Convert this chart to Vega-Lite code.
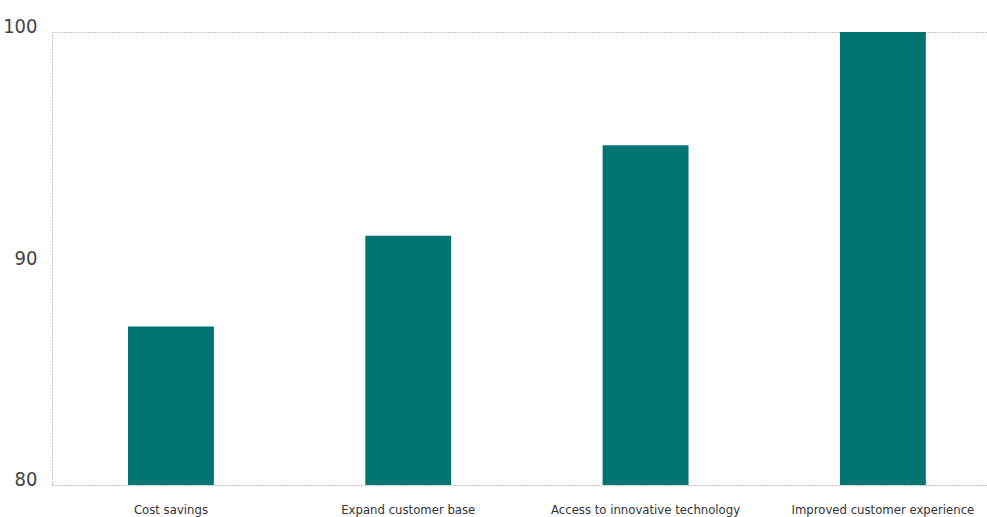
{
  "$schema": "https://vega.github.io/schema/vega-lite/v6.json",
  "autosize": {"type": "none"},
  "padding": {"left": 52, "top": 32, "right": 0, "bottom": 32},
  "width": 935,
  "height": 453,
  "background": "white",
  "config": {
    "view": {"stroke": null},
    "font": "DejaVu Sans Condensed"
  },
  "data": {
    "values": [
      {"category": "Cost savings", "value": 87},
      {"category": "Expand customer base", "value": 91},
      {"category": "Access to innovative technology", "value": 95},
      {"category": "Improved customer experience", "value": 100}
    ]
  },
  "mark": {"type": "bar", "color": "#007470", "clip": true},
  "encoding": {
    "x": {
      "field": "category",
      "type": "nominal",
      "sort": null,
      "scale": {"paddingInner": 0.638, "paddingOuter": 0.289, "align": 0.554},
      "axis": {
        "title": null,
        "labelAngle": 0,
        "ticks": false,
        "domainColor": "#888",
        "domainDash": [1, 2],
        "domainWidth": 1,
        "labelFont": "DejaVu Sans Condensed",
        "labelFontSize": 13,
        "labelColor": "#333",
        "labelLimit": 0,
        "labelPadding": 18,
        "labelBaseline": "top"
      }
    },
    "y": {
      "field": "value",
      "type": "quantitative",
      "scale": {"domain": [80, 100], "zero": false, "nice": false},
      "axis": {
        "title": null,
        "values": [80, 90, 100],
        "ticks": false,
        "domainColor": "#888",
        "domainDash": [1, 2],
        "domainWidth": 1,
        "grid": true,
        "gridColor": "#888",
        "gridDash": [1, 2],
        "gridOpacity": {"condition": {"test": "datum.value == 100", "value": 1}, "value": 0},
        "labelFont": "DejaVu Sans Condensed",
        "labelFontSize": 20,
        "labelColor": "#444",
        "labelPadding": 15,
        "labelBaseline": {"condition": {"test": "datum.value == 90", "value": "middle"}, "value": "alphabetic"}
      }
    }
  }
}
